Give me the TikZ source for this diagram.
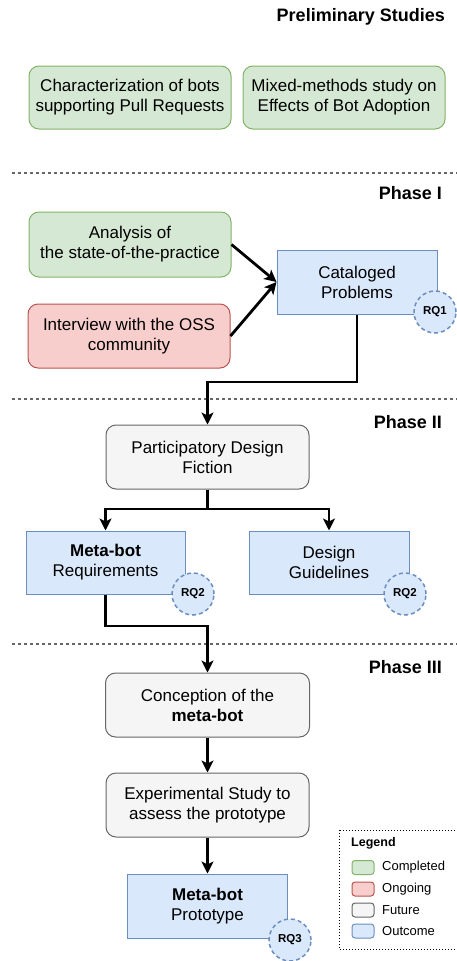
\documentclass[tikz,border=0pt]{standalone}
\usepackage{fontspec}
\setmainfont{Liberation Sans}
\usetikzlibrary{arrows.meta}
\definecolor{gfill}{HTML}{D5E8D4}\definecolor{gline}{HTML}{82B366}
\definecolor{rfill}{HTML}{F8CECC}\definecolor{rline}{HTML}{B85450}
\definecolor{ffill}{HTML}{F5F5F5}\definecolor{fline}{HTML}{666666}
\definecolor{bfill}{HTML}{DAE8FC}\definecolor{bline}{HTML}{6C8EBF}
\tikzset{
  base/.style={draw, line width=1pt, align=center, inner sep=0pt, font=\fontsize{17}{20}\selectfont},
  donebox/.style={base, fill=gfill, draw=gline, rounded corners=10pt},
  ongoingbox/.style={base, fill=rfill, draw=rline, rounded corners=10pt},
  futurebox/.style={base, fill=ffill, draw=fline, rounded corners=10pt},
  outbox/.style={base, fill=bfill, draw=bline},
  rqc/.style={circle, draw=bline, fill=bfill, dash pattern=on 4pt off 3pt, line width=1.5pt, minimum size=42pt, inner sep=0pt, font=\fontsize{11.5}{13}\selectfont\bfseries},
  phase/.style={anchor=east, inner sep=0pt, font=\fontsize{18}{20}\selectfont\bfseries},
  sep/.style={draw=black!60, line width=1.2pt, dash pattern=on 3pt off 3pt},
  conn/.style={draw, line width=2.8pt, -{Stealth[length=12pt,width=12pt,inset=3pt]}},
  swatch/.style={draw, line width=1pt, rounded corners=3pt, minimum width=22pt, minimum height=14pt, inner sep=0pt},
  legtext/.style={anchor=west, inner sep=0pt, font=\fontsize{13}{15}\selectfont},
}
\begin{document}
\begin{tikzpicture}[x=1pt,y=-1pt]
\useasboundingbox (0,0) rectangle (457,961);
% separators
\coordinate (s1a) at (12,173); \coordinate (s1b) at (457,173);
\coordinate (s2a) at (12,399); \coordinate (s2b) at (457,399);
\coordinate (s3a) at (12,644); \coordinate (s3b) at (457,644);
\draw[sep] (s1a) -- (s1b);
\draw[sep] (s2a) -- (s2b);
\draw[sep] (s3a) -- (s3b);
% titles
\node[phase] (t0) at (445,17) {Preliminary Studies};
\node[phase] (t1) at (442,193) {Phase I};
\node[phase] (t2) at (442,422) {Phase II};
\node[phase] (t3) at (442,667) {Phase III};
% preliminary
\node[donebox, minimum width=202pt, minimum height=63pt] (c1) at (130,97.5) {Characterization of bots\\supporting Pull Requests};
\node[donebox, minimum width=202pt, minimum height=63pt] (c2) at (344,97.5) {Mixed-methods study on\\Effects of Bot Adoption};
% phase I
\node[donebox, minimum width=202pt, minimum height=65pt] (ana) at (130,244.5) {Analysis of\\the state-of-the-practice};
\node[ongoingbox, minimum width=202pt, minimum height=64pt] (intv) at (129,336) {Interview with the OSS\\community};
\node[outbox, minimum width=160pt, minimum height=64pt] (cat) at (357,282) {Cataloged\\Problems};
\node[rqc] (rq1) at (435,312) {RQ1};
\draw[conn] (ana.east) -- (cat.west);
\draw[conn] (intv.east) -- (cat.west);
% phase II
\node[futurebox, minimum width=203pt, minimum height=64pt] (pdf) at (207.5,457) {Participatory Design\\Fiction};
\node[outbox, minimum width=159pt, minimum height=63pt] (req) at (105.5,562.5) {\textbf{Meta-bot}\\Requirements};
\node[rqc] (rq2a) at (193,594) {RQ2};
\node[outbox, minimum width=160pt, minimum height=63pt] (gui) at (329,562.5) {Design\\Guidelines};
\node[rqc] (rq2b) at (405,594) {RQ2};
\coordinate (k1) at (357,382);
\draw[conn] (cat.south) -- (k1) -| (pdf.north);
\coordinate (k2) at (207.5,509);
\draw[conn] (pdf.south) -- (k2) -| (req.north);
\draw[conn] (pdf.south) -- (k2) -| (gui.north);
% phase III
\node[futurebox, minimum width=204pt, minimum height=64pt] (con) at (207.5,705) {Conception of the\\\textbf{meta-bot}};
\node[futurebox, minimum width=203pt, minimum height=64pt] (exp) at (207.5,805) {Experimental Study to\\assess the prototype};
\node[outbox, minimum width=160pt, minimum height=64pt] (pro) at (207.5,906) {\textbf{Meta-bot}\\Prototype};
\node[rqc] (rq3) at (290,940) {RQ3};
\coordinate (k3) at (105.5,626);
\draw[conn] (req.south) -- (k3) -| (con.north);
\draw[conn] (con.south) -- (exp.north);
\draw[conn] (exp.south) -- (pro.north);
% legend
\coordinate (la) at (339,830); \coordinate (lb) at (470,949);
\draw[dotted, line width=1pt] (la) rectangle (lb);
\node[anchor=west, inner sep=0pt, font=\fontsize{12.5}{14}\selectfont\bfseries] (lt) at (351,843) {Legend};
\node[swatch, fill=gfill, draw=gline] (sw1) at (363,867.5) {};
\node[swatch, fill=rfill, draw=rline] (sw2) at (363,889) {};
\node[swatch, fill=ffill, draw=fline] (sw3) at (363,910) {};
\node[swatch, fill=bfill, draw=bline] (sw4) at (363,931) {};
\node[legtext] (l1) at (382,867.5) {Completed};
\node[legtext] (l2) at (382,889) {Ongoing};
\node[legtext] (l3) at (382,910) {Future};
\node[legtext] (l4) at (382,931) {Outcome};
\end{tikzpicture}
\end{document}
